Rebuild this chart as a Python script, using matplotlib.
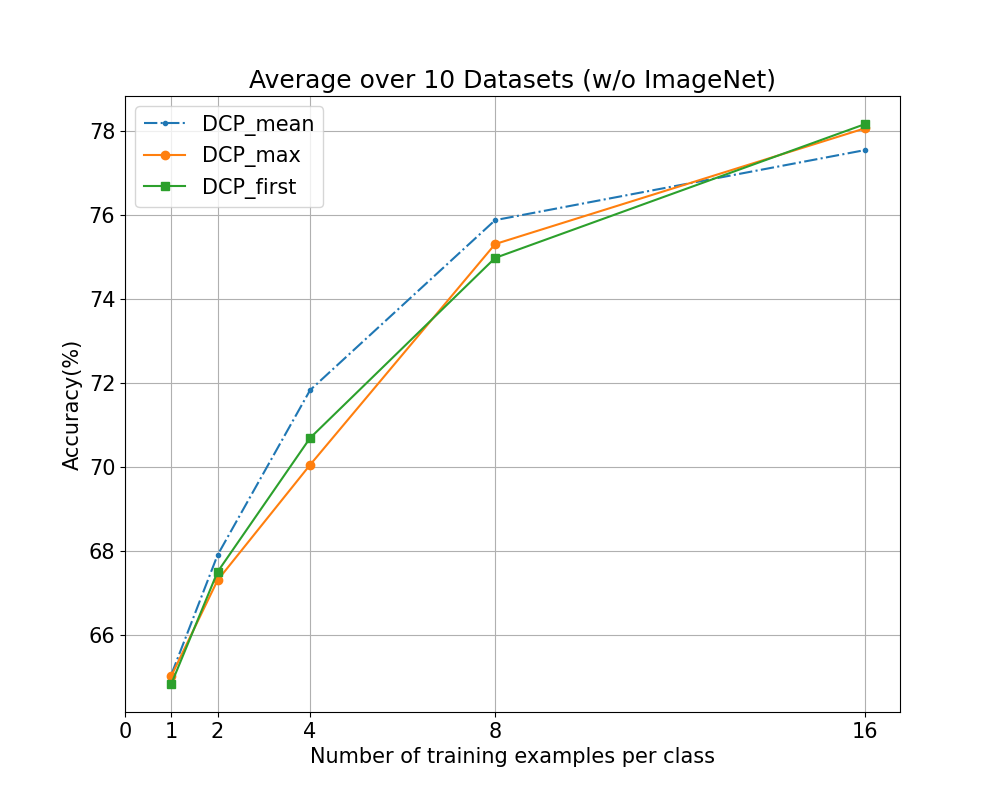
import matplotlib
matplotlib.use("Agg")
import matplotlib.pyplot as plt

shots = [1, 2, 4, 8, 16]
dcp_mean = [65.05, 67.9, 71.83, 75.88, 77.55]
dcp_max = [65.02, 67.3, 70.05, 75.31, 78.07]
dcp_first = [64.83, 67.5, 70.69, 74.98, 78.17]
xticks = [0, 1, 2, 4, 8, 16]

plt.rcParams['font.size'] = 15
fig, ax = plt.subplots(figsize=(10, 8), dpi=100)

ax.plot(shots, dcp_mean, '-.', marker='.', label='DCP_mean')
ax.plot(shots, dcp_max, '-', marker='o', label='DCP_max')
ax.plot(shots, dcp_first, '-', marker='s', label='DCP_first')

ax.set_xticks(xticks)
ax.set_xlabel('Number of training examples per class')
ax.set_ylabel('Accuracy(%)')
ax.set_title('Average over 10 Datasets (w/o ImageNet)', fontsize=18)
ax.grid(True)
ax.legend(loc='upper left')

fig.savefig('out.png')
